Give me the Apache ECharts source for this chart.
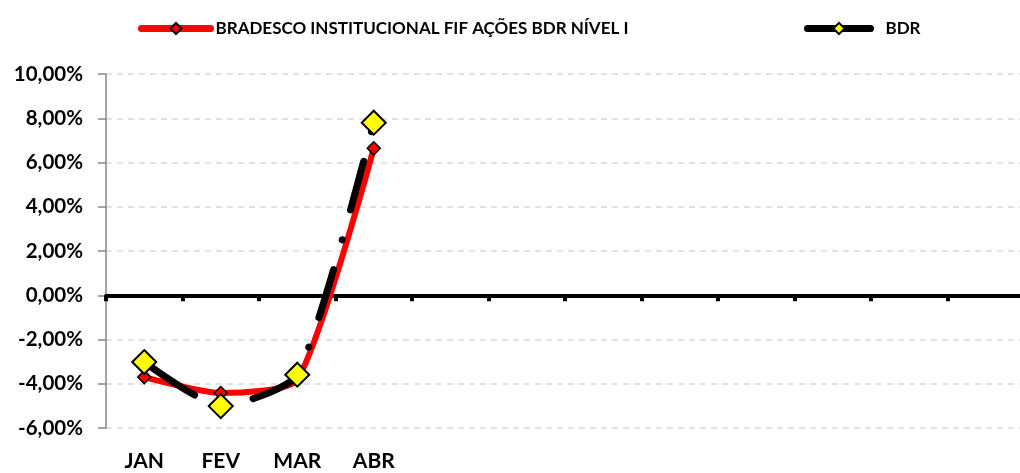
<!DOCTYPE html>
<html>
<head>
<meta charset="utf-8">
<script src="https://cdn.jsdelivr.net/npm/echarts@6/dist/echarts.min.js"></script>
<style>
html,body{margin:0;padding:0;background:#fff;}
#chart{width:1020px;height:473px;}
</style>
</head>
<body>
<div id="chart"></div>
<script>
var categories = ['JAN','FEV','MAR','ABR','','','','','','','',''];
var fundName = 'BRADESCO INSTITUCIONAL FIF AÇÕES BDR NÍVEL I';
var fundValues = [-3.70, -4.42, -3.82, 6.64];
var bdrName = 'BDR';
var bdrValues = [-3.02, -5.01, -3.59, 7.80];
var yTicks = {min: -6, max: 10, interval: 2};

var FONT = 'Lato, "Open Sans", sans-serif';
var chart = echarts.init(document.getElementById('chart'), null, {renderer: 'canvas'});
chart.setOption({
  animation: false,
  backgroundColor: '#ffffff',
  grid: {left: 106, top: 74, width: 918, bottom: 45, containLabel: false, outerBoundsMode: 'none'},
  legend: [
    {
      data: [fundName], left: 133, top: 15, itemWidth: 69, itemHeight: 14,
      textStyle: {fontFamily: FONT, fontWeight: 'bold', fontSize: 17, color: '#000'},
      lineStyle: {width: 7, type: 'solid', cap: 'round'}
    },
    {
      data: [bdrName], left: 799, top: 15, itemWidth: 63, itemHeight: 14,
      textStyle: {fontFamily: FONT, fontWeight: 'bold', fontSize: 17, color: '#000', padding: [0,0,0,10]},
      lineStyle: {width: 7, type: 'solid', cap: 'round'}
    }
  ],
  xAxis: {
    type: 'category', data: categories, boundaryGap: true,
    axisLine: {onZero: true, lineStyle: {color: '#000', width: 4}},
    axisTick: {show: true, length: 6, lineStyle: {color: '#000', width: 4}},
    axisLabel: {margin: 23, interval: 0, fontFamily: FONT, fontWeight: 'bold', fontSize: 21, color: '#000'},
    splitLine: {show: false}
  },
  yAxis: {
    type: 'value', min: yTicks.min, max: yTicks.max, interval: yTicks.interval,
    axisLine: {show: true, lineStyle: {color: '#868686', width: 1.5}},
    axisTick: {show: true, length: 8, lineStyle: {color: '#868686', width: 1.5}},
    axisLabel: {margin: 23, fontFamily: FONT, fontWeight: 'bold', fontSize: 20.5, color: '#000',
      formatter: function (v) { return v.toFixed(2).replace('.', ',') + '%'; }},
    splitLine: {show: true, lineStyle: {color: '#d9d9d9', width: 1.5, type: [6, 5]}}
  },
  series: [
    {
      name: fundName, type: 'line', data: fundValues, smooth: 0.2, z: 2,
      symbol: 'diamond', symbolSize: 13,
      lineStyle: {color: '#ff0000', width: 6, cap: 'round', join: 'round'},
      itemStyle: {color: '#ff0000', borderColor: '#000', borderWidth: 1.5}
    },
    {
      name: bdrName, type: 'line', data: bdrValues, smooth: 0.2, z: 3,
      symbol: 'diamond', symbolSize: 24,
      lineStyle: {color: '#000', width: 7, cap: 'round', join: 'round', type: [50, 31, 0.1, 31], dashOffset: -10},
      itemStyle: {color: '#ffff00', borderColor: '#000', borderWidth: 2}
    }
  ]
});
</script>
</body>
</html>
